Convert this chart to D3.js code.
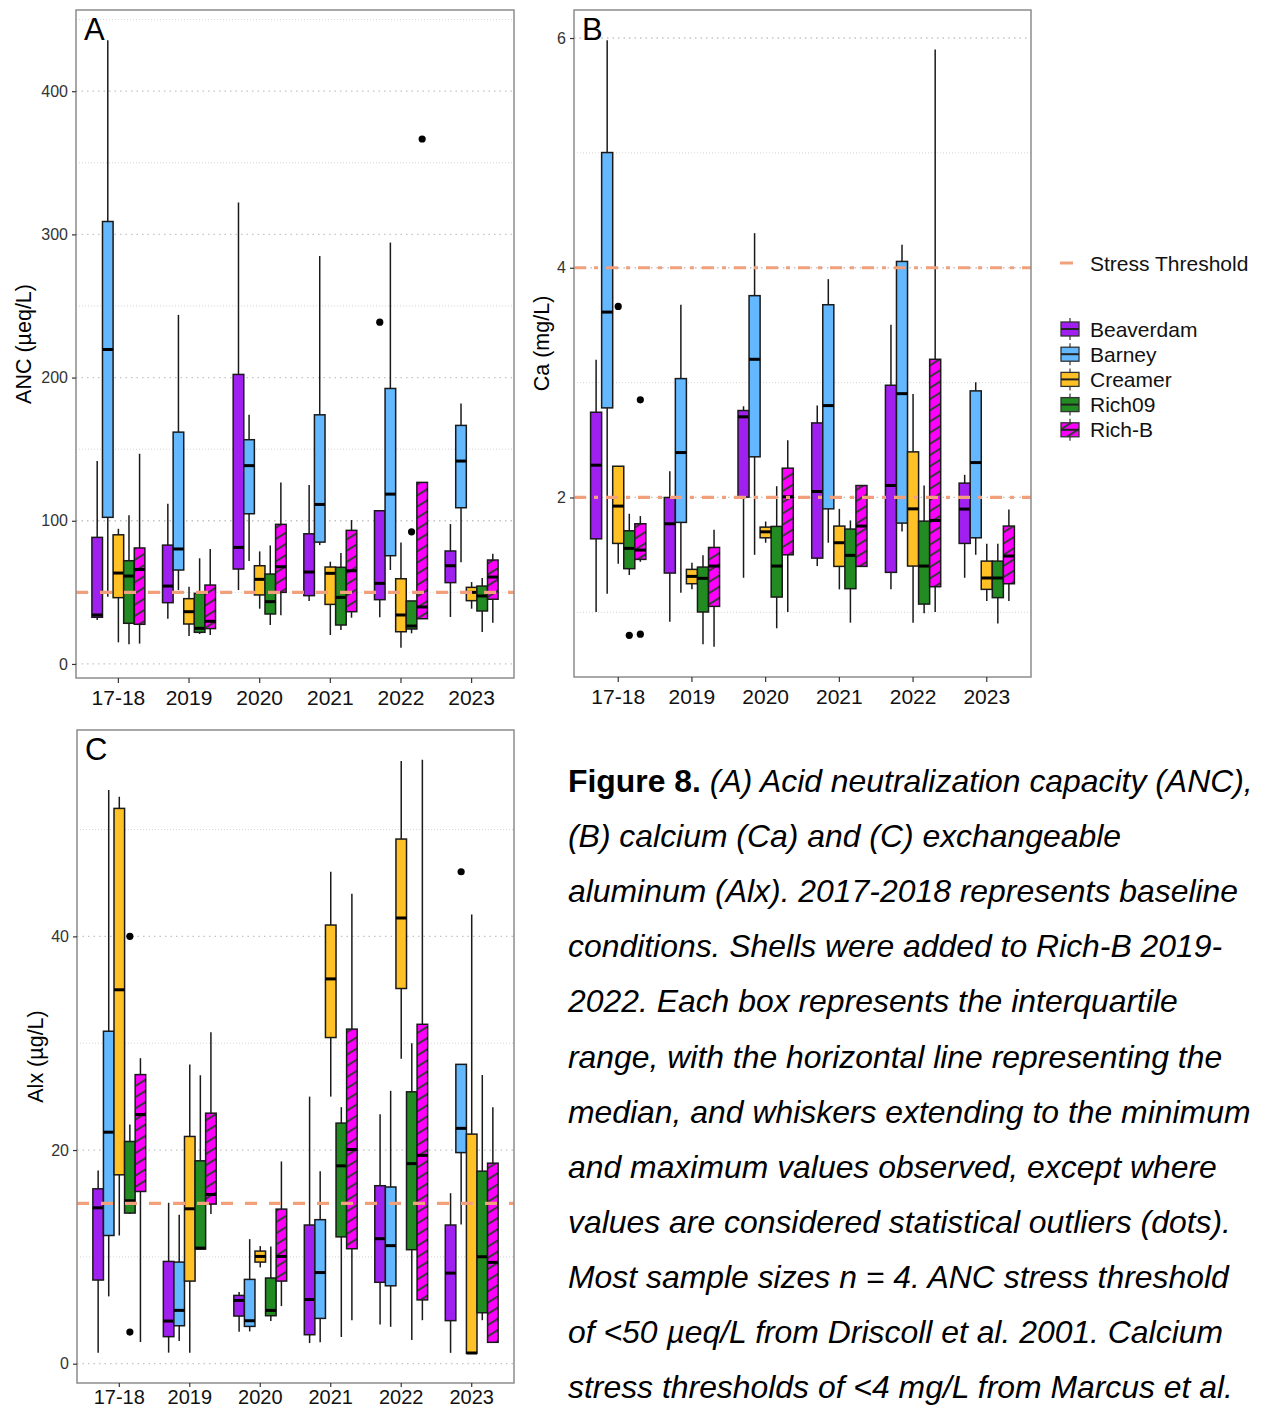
<!DOCTYPE html>
<html><head><meta charset="utf-8">
<script src="https://cdn.jsdelivr.net/npm/d3@7"></script>
<style>body{margin:0;background:#fff} svg{display:block;font-family:"Liberation Sans",Arial,sans-serif}</style>
</head><body><svg id="c" width="1265" height="1412"></svg>
<script>
// ---------- categories ----------
const years = ["17-18","2019","2020","2021","2022","2023"];
const sites = ["Beaverdam","Barney","Creamer","Rich09","Rich-B"];
const siteColors = ["#A020F0","#63B8FF","#FFC125","#228B22","#FF00FF"];

// ---------- ANC (µeq/L): [min, q1, median, q3, max] per year ----------
const ancBeaverdam = [[30.7,32.6,34.2,88.4,141.7],[31.6,42.8,54.4,83,111.9],[51.6,66.3,81.4,202.2,322.3],[44,47.7,64.2,90.9,124.9],[32.6,44.9,56.3,107,107],[32.8,56.8,68.6,78.9,97.7]];
const ancBarney    = [[47,102.4,219.6,309,435.5],[51.6,65.6,80.3,161.9,243.8],[71.9,104.9,138.5,156.6,174],[83,85.1,111.4,174,284.9],[65.6,75.6,118.6,192.4,294.3],[71,109.1,141.7,166.6,181.9]];
const ancCreamer   = [[15.1,46.3,63.5,90.2,94.4],[19.5,27.9,36.5,45.6,54],[38.6,48.2,59.1,68.6,78.6],[20.2,41.6,63.3,67.7,71.4],[11.4,22.5,34.2,59.5,84.9],[38.6,44.2,50,53.5,57.2]];
const ancRich09    = [[13.7,28.4,61.4,72.1,103.8],[20.9,22.1,24.9,49.3,73.8],[27.2,34.9,43.5,62.8,82.8],[23.7,27.2,46.5,67.5,77.5],[21.4,24.4,26.5,44,44],[22.3,37,47.5,54.4,60]];
const ancRichB     = [[14.2,27.7,66,81,146.8],[20.2,24.7,29.8,55.1,80.2],[34,50,67.9,97.5,126.8],[32.3,36.5,65.1,93.3,100.5],[31.6,31.6,39.8,126.8,126.8],[28.8,45.2,60.7,72.6,77]];
const ancOutliers  = [{site:"Beaverdam",year:"2022",value:238.7},{site:"Rich09",year:"2022",value:92.3},{site:"Rich-B",year:"2022",value:366.6}];
const ancTicks = [0,100,200,300,400];
const ancMinor = [50,150,250,350,450];
const ancThreshold = [50];

// ---------- Ca (mg/L) ----------
const caBeaverdam = [[1.003,1.64,2.281,2.742,3.2],[0.919,1.342,1.771,2.0,2.229],[1.301,2.003,2.702,2.757,2.794],[1.403,1.472,2.052,2.649,2.8],[1.2,1.348,2.104,2.977,3.504],[1.301,1.6,1.899,2.125,2.197]];
const caBarney    = [[1.162,2.78,3.614,5.003,5.98],[1.171,1.783,2.391,3.035,3.678],[1.501,2.354,3.203,3.757,4.301],[1.606,1.901,2.8,3.678,3.901],[1.704,1.777,2.904,4.055,4.2],[1.501,1.649,2.304,2.928,3.003]];
const caCreamer   = [[1.423,1.6,1.925,2.272,2.272],[1.2,1.249,1.313,1.374,1.432],[1.606,1.649,1.701,1.742,1.791],[1.2,1.4,1.606,1.751,1.901],[0.91,1.403,1.901,2.397,2.901],[1.099,1.2,1.299,1.446,1.597]];
const caRich09    = [[1.325,1.38,1.557,1.71,1.858],[0.722,1.003,1.296,1.394,1.498],[0.861,1.133,1.403,1.748,2.098],[0.91,1.206,1.496,1.725,1.8],[0.991,1.072,1.403,1.794,2.104],[0.902,1.128,1.299,1.446,1.597]];
const caRichB     = [[1.44,1.461,1.542,1.771,1.838],[0.701,1.052,1.403,1.565,1.719],[1.003,1.501,2.006,2.255,2.498],[1.4,1.4,1.751,2.104,2.104],[1.003,1.223,1.8,3.203,5.9],[1.099,1.249,1.49,1.751,1.896]];
const caOutliers  = [{site:"Creamer",year:"17-18",value:3.663},{site:"Rich09",year:"17-18",value:0.8},{site:"Rich-B",year:"17-18",value:2.85},{site:"Rich-B",year:"17-18",value:0.81}];
const caTicks = [2,4,6];
const caMinor = [1,3,5];
const caThreshold = [2,4];

// ---------- Alx (µg/L) ----------
const alxBeaverdam = [[1.03,7.83,14.59,16.37,18.08],[1.03,2.53,3.99,9.57,15.06],[2.99,4.46,5.92,6.39,6.71],[1.93,2.71,6.01,12.98,25.0],[3.66,7.62,11.7,16.66,23.35],[1.01,4.03,8.48,12.98,15.96]];
const alxBarney    = [[6.3,12.0,21.67,31.12,53.7],[2.12,3.55,4.99,9.51,13.94],[3.02,3.49,4.02,7.89,11.66],[2.0,4.24,8.53,13.48,18.02],[3.45,7.29,11.05,16.54,25.54],[13.03,19.76,22.03,28.02,28.02]];
const alxCreamer   = [[12.0,17.68,35.0,51.98,53.07],[1.03,7.73,14.5,21.27,28.0],[9.01,9.51,10.04,10.54,11.01],[25.0,30.53,36.02,41.06,46.05],[28.55,35.12,41.72,49.11,56.42],[0.97,0.97,1.0,21.49,42.05]];
const alxRich09    = [[14.0,14.1,15.25,20.8,22.39],[10.7,10.73,10.82,18.99,27.0],[3.99,4.49,4.99,8.02,10.97],[2.5,11.87,18.52,22.52,24.01],[2.21,10.67,18.73,25.45,29.99],[4.07,4.77,10.01,18.02,27.02]];
const alxRichB     = [[2.03,16.12,23.32,27.06,28.6],[14.0,14.94,15.84,23.45,31.03],[5.39,7.73,10.04,14.47,18.93],[4.07,10.76,20.05,31.32,43.99],[4.07,5.97,19.5,31.77,56.54],[2.0,2.0,9.48,18.77,24.01]];
const alxOutliers  = [{site:"Rich09",year:"17-18",value:40.0},{site:"Rich09",year:"17-18",value:2.96},{site:"Barney",year:"2023",value:46.05}];
const alxTicks = [0,20,40];
const alxMinor = [10,30,50];
const alxThreshold = [15];

const captionLines = [
  ["Figure 8.", " (A) Acid neutralization capacity (ANC),"],
  ["", "(B) calcium (Ca) and (C) exchangeable"],
  ["", "aluminum (Alx). 2017-2018 represents baseline"],
  ["", "conditions. Shells were added to Rich-B 2019-"],
  ["", "2022. Each box represents the interquartile"],
  ["", "range, with the horizontal line representing the"],
  ["", "median, and whiskers extending to the minimum"],
  ["", "and maximum values observed, except where"],
  ["", "values are considered statistical outliers (dots)."],
  ["", "Most sample sizes n = 4. ANC stress threshold"],
  ["", "of <50 µeq/L from Driscoll et al. 2001. Calcium"],
  ["", "stress thresholds of <4 mg/L from Marcus et al."]
];

const svg = d3.select("#c");
const defs = svg.append("defs");
const pat = defs.append("pattern").attr("id","stripe").attr("patternUnits","userSpaceOnUse")
  .attr("width",10).attr("height",9.5).attr("patternTransform","rotate(-32)");
pat.append("rect").attr("width",10).attr("height",9.5).attr("fill","#FF00FF");
pat.append("line").attr("x1",0).attr("x2",10).attr("y1",4.75).attr("y2",4.75).attr("stroke","#3a3a3a").attr("stroke-width",2);
const fills = siteColors.map((c,i)=> sites[i]==="Rich-B" ? "url(#stripe)" : c);
const threshColor = "#F2A07B";

function panel(cfg){
  const g = svg.append("g");
  const x = d3.scaleBand().domain(years).range([cfg.left,cfg.right]).paddingInner(0).paddingOuter(0.1);
  const dodge = d3.scaleBand().domain(sites).range([-0.375*x.step(), 0.375*x.step()]);
  const allVals = cfg.stats.flat(2).concat(cfg.outliers.map(o=>o.value));
  const [mn,mx] = d3.extent(allVals);
  const pad = (mx-mn)*0.05;
  const y = d3.scaleLinear().domain([mn-pad, mx+pad]).range([cfg.bottom, cfg.top]);
  const cx = (yr,s)=> x(yr)+x.bandwidth()/2 + dodge(s) + dodge.bandwidth()/2;

  // grid
  g.selectAll(".gmin").data(cfg.minor.filter(v=>v<y.domain()[1])).join("line")
    .attr("x1",cfg.left).attr("x2",cfg.right).attr("y1",d=>y(d)).attr("y2",d=>y(d))
    .attr("stroke","#cfcfcf").attr("stroke-width",0.9).attr("stroke-dasharray","1,2");
  g.selectAll(".gmaj").data(cfg.ticks).join("line")
    .attr("x1",cfg.left).attr("x2",cfg.right).attr("y1",d=>y(d)).attr("y2",d=>y(d))
    .attr("stroke","#c4c4c4").attr("stroke-width",1.3).attr("stroke-dasharray","1.5,4");

  // boxes
  const bw = dodge.bandwidth();
  sites.forEach((s,si)=>{
    cfg.stats[si].forEach((st,yi)=>{
      const yr = years[yi];
      const c = cx(yr,s);
      const [lo,q1,md,q3,hi] = st;
      g.append("line").attr("x1",c).attr("x2",c).attr("y1",y(hi)).attr("y2",y(q3)).attr("stroke","#1a1a1a").attr("stroke-width",1.5);
      g.append("line").attr("x1",c).attr("x2",c).attr("y1",y(q1)).attr("y2",y(lo)).attr("stroke","#1a1a1a").attr("stroke-width",1.5);
      g.append("rect").attr("x",c-bw/2).attr("width",bw).attr("y",y(q3)).attr("height",Math.max(0.5,y(q1)-y(q3)))
        .attr("fill",fills[si]).attr("stroke","#1a1a1a").attr("stroke-width",1.5);
      g.append("line").attr("x1",c-bw/2).attr("x2",c+bw/2).attr("y1",y(md)).attr("y2",y(md)).attr("stroke","#000").attr("stroke-width",3);
    });
  });
  g.selectAll(".out").data(cfg.outliers).join("circle")
    .attr("cx",d=>cx(d.year,d.site)).attr("cy",d=>y(d.value)).attr("r",3.6).attr("fill","#000");

  // thresholds
  cfg.threshold.forEach(t=>{
    g.append("line").attr("x1",cfg.left).attr("x2",cfg.right).attr("y1",y(t)).attr("y2",y(t))
      .attr("stroke",threshColor).attr("stroke-width",3.2).attr("stroke-dasharray",cfg.dash);
  });

  // border
  g.append("rect").attr("x",cfg.left).attr("y",cfg.top).attr("width",cfg.right-cfg.left).attr("height",cfg.bottom-cfg.top)
    .attr("fill","none").attr("stroke","#8c8c8c").attr("stroke-width",1.5);

  // axes
  const ya = g.append("g").attr("transform",`translate(${cfg.left},0)`)
    .call(d3.axisLeft(y).tickValues(cfg.ticks).tickFormat(d3.format("~g")).tickSize(4).tickPadding(4));
  ya.select(".domain").remove();
  ya.selectAll(".tick line").attr("stroke","#333").attr("stroke-width",1.2);
  ya.selectAll(".tick text").attr("font-size",16).attr("fill","#333").attr("font-family","Liberation Sans, Arial, sans-serif");
  const xa = g.append("g").attr("transform",`translate(0,${cfg.bottom})`)
    .call(d3.axisBottom(x).tickSize(cfg.xTick).tickPadding(cfg.xPad));
  xa.select(".domain").remove();
  xa.selectAll(".tick line").attr("stroke","#333").attr("stroke-width",1.2);
  xa.selectAll(".tick text").attr("font-size",cfg.xFont).attr("fill","#111").attr("font-family","Liberation Sans, Arial, sans-serif");

  // titles
  g.append("text").attr("transform",`translate(${cfg.ylabelX},${(cfg.top+cfg.bottom)/2}) rotate(-90)`)
    .attr("text-anchor","middle").attr("font-size",21.5).attr("fill","#000").text(cfg.ylabel);
  g.append("text").attr("x",cfg.left+8).attr("y",cfg.top+30).attr("font-size",31).attr("fill","#000").text(cfg.letter);
}

panel({left:76,right:514,top:10,bottom:678,stats:[ancBeaverdam,ancBarney,ancCreamer,ancRich09,ancRichB],outliers:ancOutliers,
  ticks:ancTicks,minor:ancMinor,threshold:ancThreshold,dash:"12,12",ylabel:"ANC (µeq/L)",ylabelX:31,letter:"A",xTick:5,xPad:7,xFont:21});
panel({left:574,right:1031,top:10,bottom:677,stats:[caBeaverdam,caBarney,caCreamer,caRich09,caRichB],outliers:caOutliers,
  ticks:caTicks,minor:caMinor,threshold:caThreshold,dash:"12,8,4,8",ylabel:"Ca (mg/L)",ylabelX:549,letter:"B",xTick:5,xPad:7,xFont:21});
panel({left:77,right:514,top:730,bottom:1383,stats:[alxBeaverdam,alxBarney,alxCreamer,alxRich09,alxRichB],outliers:alxOutliers,
  ticks:alxTicks,minor:alxMinor,threshold:alxThreshold,dash:"12,12",ylabel:"Alx (µg/L)",ylabelX:43,letter:"C",xTick:4,xPad:3,xFont:20});

// legend
const lg = svg.append("g");
lg.append("line").attr("x1",1060).attr("x2",1073).attr("y1",263).attr("y2",263).attr("stroke",threshColor).attr("stroke-width",3);
lg.append("text").attr("x",1090).attr("y",270.5).attr("font-size",21).attr("fill","#111").text("Stress Threshold");
sites.forEach((s,i)=>{
  const yy = 329 + i*25.2;
  lg.append("line").attr("x1",1070).attr("x2",1070).attr("y1",yy-11).attr("y2",yy+11).attr("stroke","#333").attr("stroke-width",1.2);
  lg.append("rect").attr("x",1061).attr("y",yy-7).attr("width",18).attr("height",14).attr("fill",fills[i]).attr("stroke","#333").attr("stroke-width",1.3);
  lg.append("line").attr("x1",1061).attr("x2",1079).attr("y1",yy).attr("y2",yy).attr("stroke","#222").attr("stroke-width",2);
  lg.append("text").attr("x",1090).attr("y",yy+7.5).attr("font-size",21).attr("fill","#111").text(s);
});

// caption
const cap = svg.append("g").attr("font-size",31.9).attr("fill","#000");
captionLines.forEach((ln,i)=>{
  const t = cap.append("text").attr("x",568).attr("y",792+i*55.1);
  if(ln[0]) t.append("tspan").attr("font-weight","bold").text(ln[0]);
  t.append("tspan").attr("font-style","italic").text(ln[1]);
});
</script></body></html>
